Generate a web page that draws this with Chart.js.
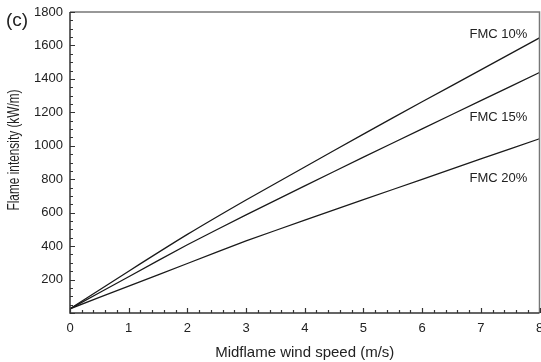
<!DOCTYPE html>
<html>
<head>
<meta charset="utf-8">
<script src="https://cdn.jsdelivr.net/npm/chart.js@4.4.1/dist/chart.umd.min.js"></script>
<style>
  html, body { margin: 0; padding: 0; background: #fff; }
  #wrap { position: relative; width: 541px; height: 362px; }
</style>
</head>
<body>
<div id="wrap"><canvas id="chart" width="541" height="362"></canvas></div>
<script>
// Flame intensity vs midflame wind speed, panel (c)
const windSpeed = [0, 1, 2, 3, 4, 5, 6, 7, 8];
const fmc10 = [25, 250, 470, 676, 873, 1070, 1263, 1454, 1645];
const fmc15 = [25, 217, 408, 587, 760, 932, 1101, 1270, 1438];
const fmc20 = [25, 161, 296, 431, 555, 678, 799, 921, 1042];
const seriesNames = ['FMC 10%', 'FMC 15%', 'FMC 20%'];
// where each name sits, in data units
const labelAt = [[7.3, 1663], [7.3, 1167], [7.3, 803]];

const INK = '#222';
const FONT = "'Liberation Sans', Arial, sans-serif";

function toPts(ys) { return windSpeed.map((x, i) => ({ x, y: ys[i] })); }

// inside ticks, frame, y title and curve labels
const extras = {
  id: 'extras',
  afterDraw(chart) {
    const { ctx, chartArea: a, scales: { x, y } } = chart;
    ctx.save();
    // frame: top/right lighter
    ctx.strokeStyle = '#777'; ctx.lineWidth = 1.5;
    ctx.beginPath();
    ctx.moveTo(a.left, a.top); ctx.lineTo(a.right, a.top); ctx.lineTo(a.right, a.bottom);
    ctx.stroke();
    ctx.strokeStyle = '#333'; ctx.lineWidth = 1.5;
    ctx.beginPath();
    ctx.moveTo(a.left, a.top); ctx.lineTo(a.left, a.bottom); ctx.lineTo(a.right, a.bottom);
    ctx.stroke();
    // ticks pointing in
    ctx.lineWidth = 1.2;
    ctx.beginPath();
    for (let v = 0; v <= 1800; v += 50) {
      const py = Math.round(y.getPixelForValue(v)) + 0.5;
      const len = v % 200 === 0 ? 5 : 3;
      ctx.moveTo(a.left, py); ctx.lineTo(a.left + len, py);
    }
    for (let i = 0; i <= 40; i++) {
      const v = i * 0.2;
      const px = Math.round(x.getPixelForValue(v)) + 0.5;
      const len = i % 5 === 0 ? 5 : 3;
      ctx.moveTo(px, a.bottom); ctx.lineTo(px, a.bottom - len);
    }
    ctx.stroke();
    // curve names
    ctx.fillStyle = INK;
    ctx.font = '13px ' + FONT;
    ctx.textAlign = 'center'; ctx.textBaseline = 'middle';
    seriesNames.forEach((n, i) => {
      ctx.fillText(n, x.getPixelForValue(labelAt[i][0]), y.getPixelForValue(labelAt[i][1]));
    });
    // y axis title, condensed like the original
    ctx.save();
    ctx.translate(15, 150);
    ctx.rotate(-Math.PI / 2);
    ctx.scale(0.74, 1);
    ctx.font = '16px ' + FONT;
    ctx.fillText('Flame intensity (kW/m)', 0, 0);
    ctx.restore();
    // panel letter
    ctx.font = '19px ' + FONT;
    ctx.textAlign = 'left';
    ctx.fillText('(c)', 6, 21);
    ctx.restore();
  }
};

const lineStyle = { borderColor: '#1a1a1a', borderWidth: 1.3, pointRadius: 0, tension: 0.2, fill: false };

new Chart(document.getElementById('chart'), {
  type: 'line',
  data: {
    datasets: [
      { label: seriesNames[0], data: toPts(fmc10), ...lineStyle },
      { label: seriesNames[1], data: toPts(fmc15), ...lineStyle },
      { label: seriesNames[2], data: toPts(fmc20), ...lineStyle }
    ]
  },
  options: {
    responsive: false,
    animation: false,
    layout: { padding: { top: 12, right: 1.5, left: 0, bottom: 0 } },
    plugins: { legend: { display: false }, tooltip: { enabled: false } },
    scales: {
      x: {
        type: 'linear', min: 0, max: 8,
        grid: { display: false, drawTicks: false },
        border: { display: false },
        ticks: { stepSize: 1, color: INK, padding: 8, font: { family: FONT, size: 13 } },
        title: { display: true, text: 'Midflame wind speed (m/s)', color: INK, font: { family: FONT, size: 15 }, padding: { top: 5, bottom: 0 } },
        afterFit(s) { s.height = 49; s.paddingLeft = 0; s.paddingRight = 0; }
      },
      y: {
        type: 'linear', min: 0, max: 1800,
        grid: { display: false, drawTicks: false },
        border: { display: false },
        ticks: {
          stepSize: 200, color: INK, padding: 7, font: { family: FONT, size: 13 },
          callback: v => v === 0 ? '' : v
        },
        afterFit(s) { s.width = 70; s.paddingTop = 0; s.paddingBottom = 0; }
      }
    }
  },
  plugins: [extras]
});
</script>
</body>
</html>
